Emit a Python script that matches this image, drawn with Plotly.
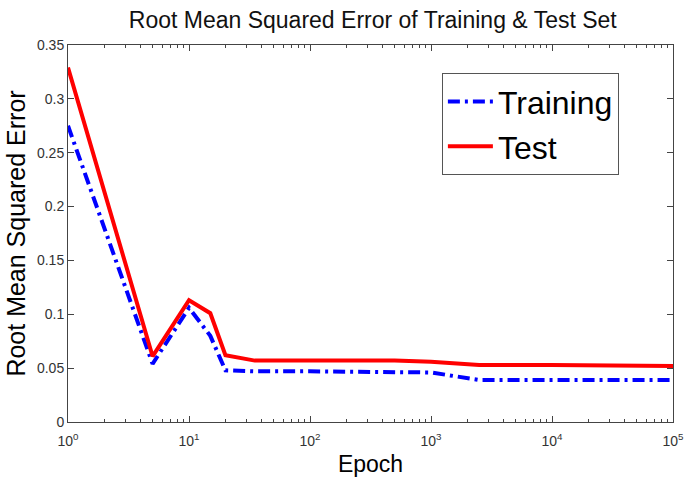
import plotly.graph_objects as go

# Data
epochs = [1, 5, 10, 15, 20, 35, 100, 500, 1000, 2500, 10000, 100000]
train_rmse = [0.275, 0.054, 0.106, 0.080, 0.048, 0.047, 0.047, 0.046, 0.046, 0.039, 0.039, 0.039]
test_rmse = [0.329, 0.061, 0.113, 0.101, 0.062, 0.057, 0.057, 0.057, 0.056, 0.053, 0.053, 0.052]

x_tickvals = [1, 10, 100, 1000, 10000, 100000]
x_ticktext = ["10<sup>0</sup>", "10<sup>1</sup>", "10<sup>2</sup>", "10<sup>3</sup>", "10<sup>4</sup>", "10<sup>5</sup>"]
y_tickvals = [0, 0.05, 0.1, 0.15, 0.2, 0.25, 0.3, 0.35]
y_ticktext = ["0", "0.05", "0.1", "0.15", "0.2", "0.25", "0.3", "0.35"]

minor_vals = [m * 10 ** d for d in range(5) for m in range(2, 10)]

fig = go.Figure()
fig.add_trace(go.Scatter(
    x=epochs, y=train_rmse, mode="lines", name="Training",
    line=dict(color="#0000ff", width=4, dash="12px,5px,3px,5px"),
))
fig.add_trace(go.Scatter(
    x=epochs, y=test_rmse, mode="lines", name="Test",
    line=dict(color="#ff0000", width=4),
))

axis_font = dict(family="Liberation Sans, Arial", size=14, color="#333")

fig.update_layout(
    width=684, height=485,
    margin=dict(l=68, r=11, t=45, b=63, autoexpand=False),
    paper_bgcolor="white", plot_bgcolor="white",
    title=dict(text="Root Mean Squared Error of Training & Test Set",
               x=0.545, xanchor="center", y=0.958, yanchor="middle",
               font=dict(family="Liberation Sans, Arial", size=23, color="#111")),
    legend=dict(x=0.618, y=0.925, xanchor="left", yanchor="top",
                bgcolor="white", bordercolor="#555", borderwidth=1,
                font=dict(family="Liberation Sans, Arial", size=32, color="#000"),
                itemwidth=45, tracegroupgap=0),
    showlegend=True,
    xaxis=dict(
        type="log", range=[0, 5], automargin=False,
        tickvals=x_tickvals, ticktext=x_ticktext,
        ticks="inside", ticklen=6, tickcolor="#444", ticklabelstandoff=6,
        ticklabeloverflow="allow",
        showline=True, linecolor="#444", linewidth=1, mirror="ticks",
        showgrid=False, zeroline=False,
        tickfont=axis_font,
        minor=dict(tickvals=minor_vals, ticks="inside", ticklen=3, tickcolor="#444", showgrid=False),
        title=dict(text="Epoch", font=dict(family="Liberation Sans, Arial", size=23, color="#000"), standoff=8),
    ),
    yaxis=dict(
        range=[0, 0.35], automargin=False,
        tickvals=y_tickvals, ticktext=y_ticktext,
        ticks="inside", ticklen=6, tickcolor="#444",
        ticklabeloverflow="allow",
        showline=True, linecolor="#444", linewidth=1, mirror="ticks",
        showgrid=False, zeroline=False,
        tickfont=axis_font,
        title=dict(text="Root Mean Squared Error", font=dict(family="Liberation Sans, Arial", size=25, color="#000"), standoff=4),
    ),
)

fig.write_html("out.html")
